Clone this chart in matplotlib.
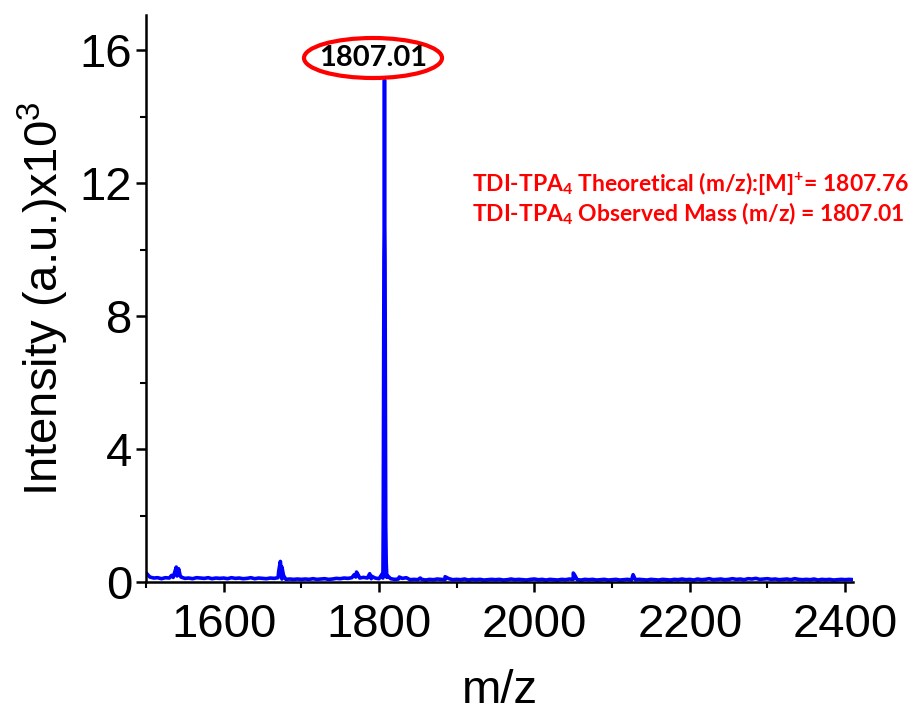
import numpy as np
import matplotlib
matplotlib.use('Agg')
import matplotlib.pyplot as plt
from matplotlib.patches import Ellipse

plt.rcParams['font.family'] = ['Liberation Sans', 'DejaVu Sans']
plt.rcParams['mathtext.fontset'] = 'custom'
plt.rcParams['mathtext.rm'] = 'Liberation Sans'
plt.rcParams['mathtext.sf'] = 'Liberation Sans'
plt.rcParams['mathtext.bf'] = 'Lato:bold'

# baseline noise, one value every 5 m/z from 1500 (x10^3 counts)
baseline = [
    0.28, 0.15, 0.12, 0.13, 0.10, 0.13, 0.12, 0.14, 0.18, 0.15,
    0.11, 0.12, 0.10, 0.13, 0.12, 0.11, 0.13, 0.10, 0.12, 0.11,
    0.12, 0.10, 0.13, 0.11, 0.12, 0.10, 0.11, 0.13, 0.10, 0.12,
    0.11, 0.10, 0.12, 0.11, 0.13, 0.09, 0.08, 0.09, 0.08, 0.09,
    0.08, 0.09, 0.08, 0.10, 0.08, 0.09, 0.10, 0.08, 0.09, 0.11,
    0.10, 0.12, 0.11, 0.13, 0.15, 0.12, 0.14, 0.12, 0.10, 0.12,
    0.10, 0.12, 0.14, 0.10, 0.08, 0.09, 0.11, 0.13, 0.07, 0.08,
    0.07, 0.08, 0.06, 0.08, 0.07, 0.09, 0.08, 0.07, 0.10, 0.07,
    0.08, 0.07, 0.09, 0.06, 0.08, 0.07, 0.08, 0.06, 0.07, 0.08,
    0.07, 0.08, 0.06, 0.07, 0.09, 0.07, 0.08, 0.07, 0.06, 0.08,
    0.09, 0.07, 0.08, 0.06, 0.08, 0.07, 0.06, 0.08, 0.07, 0.09,
    0.08, 0.07, 0.06, 0.08, 0.07, 0.08, 0.06, 0.07, 0.08, 0.06,
    0.07, 0.08, 0.06, 0.07, 0.08, 0.06, 0.07, 0.08, 0.07, 0.06,
    0.08, 0.07, 0.06, 0.08, 0.07, 0.06, 0.08, 0.07, 0.09, 0.07,
    0.08, 0.06, 0.09, 0.07, 0.08, 0.10, 0.07, 0.08, 0.09, 0.07,
    0.08, 0.10, 0.08, 0.09, 0.07, 0.10, 0.09, 0.11, 0.08, 0.09,
    0.10, 0.08, 0.09, 0.07, 0.08, 0.09, 0.07, 0.10, 0.08, 0.07,
    0.08, 0.07, 0.09, 0.06, 0.08, 0.07, 0.08, 0.06, 0.07, 0.08,
    0.07, 0.08, 0.07,
]
baseline_mz = 1500 + 5 * np.arange(len(baseline))

# peaks
peak_mz = [1533, 1537, 1539, 1542, 1544,
           1671, 1673, 1675, 1677,
           1768, 1771, 1774, 1788, 1790,
           1804.2, 1805.4, 1805.9, 1806.3, 1806.7, 1807.0, 1807.3, 1807.7,
           1808.1, 1808.6, 1809.2, 1810.4,
           1826, 1853, 1885, 2050, 2052, 2127]
peak_int = [0.20, 0.30, 0.45, 0.40, 0.20,
            0.35, 0.62, 0.45, 0.20,
            0.22, 0.30, 0.18, 0.25, 0.18,
            0.25, 1.7, 5.8, 9.7, 10.9, 15.1, 10.9, 9.7,
            5.8, 1.7, 0.6, 0.2,
            0.15, 0.12, 0.16, 0.27, 0.20, 0.22]

mz = np.concatenate([baseline_mz, peak_mz])
inten = np.concatenate([baseline, peak_int])
order = np.argsort(mz, kind='stable')
mz, inten = mz[order], inten[order]

fig = plt.figure(figsize=(9.21, 7.13), dpi=100)
ax = fig.add_axes([0.1585, 0.1837, 0.7676, 0.795])
ax.plot(mz, inten, color='#0000FF', lw=2.6)

ax.set_xlim(1500, 2410)
ax.set_ylim(0, 17.05)
ax.set_xticks([1600, 1800, 2000, 2200, 2400])
ax.set_xticks([1500, 1700, 1900, 2100, 2300], minor=True)
ax.set_yticks([0, 4, 8, 12, 16])
ax.set_yticks([2, 6, 10, 14], minor=True)
ax.spines['top'].set_visible(False)
ax.spines['right'].set_visible(False)
for s in ['left', 'bottom']:
    ax.spines[s].set_linewidth(1.8)
ax.tick_params(which='major', direction='out', length=7, width=1.8,
               labelsize=34)
ax.tick_params(axis='x', which='major', pad=8)
ax.tick_params(axis='y', which='major', pad=3)
ax.tick_params(which='minor', direction='out', length=4, width=1.5)

ax.set_xlabel('m/z', fontsize=34, labelpad=16)
ax.set_ylabel(r'Intensity (a.u.)x10$^\mathsf{3}$', fontsize=34, labelpad=6)

# peak annotation
fig.text(373 / 921, 1 - 58 / 713, '1807.01', ha='center', va='center',
         fontsize=21, fontweight='bold', family=['Lato', 'DejaVu Sans'],
         color='black')
ell = Ellipse((373, 713 - 58), 138, 40, transform=None, fill=False,
              edgecolor='#FF0000', lw=3)
fig.patches.append(ell)

red_kw = dict(fontsize=16.5, fontweight='bold', color='#FF0000',
              family=['Lato', 'DejaVu Sans'], ha='left', va='baseline')
fig.text(472 / 921, 1 - 191 / 713,
         r'TDI-TPA$_\mathbf{4}$ Theoretical (m/z):[M]$^\mathbf{+}$= 1807.76', **red_kw)
fig.text(472 / 921, 1 - 221 / 713,
         r'TDI-TPA$_\mathbf{4}$ Observed Mass (m/z) = 1807.01', **red_kw)

fig.savefig('out.png', dpi=100)
